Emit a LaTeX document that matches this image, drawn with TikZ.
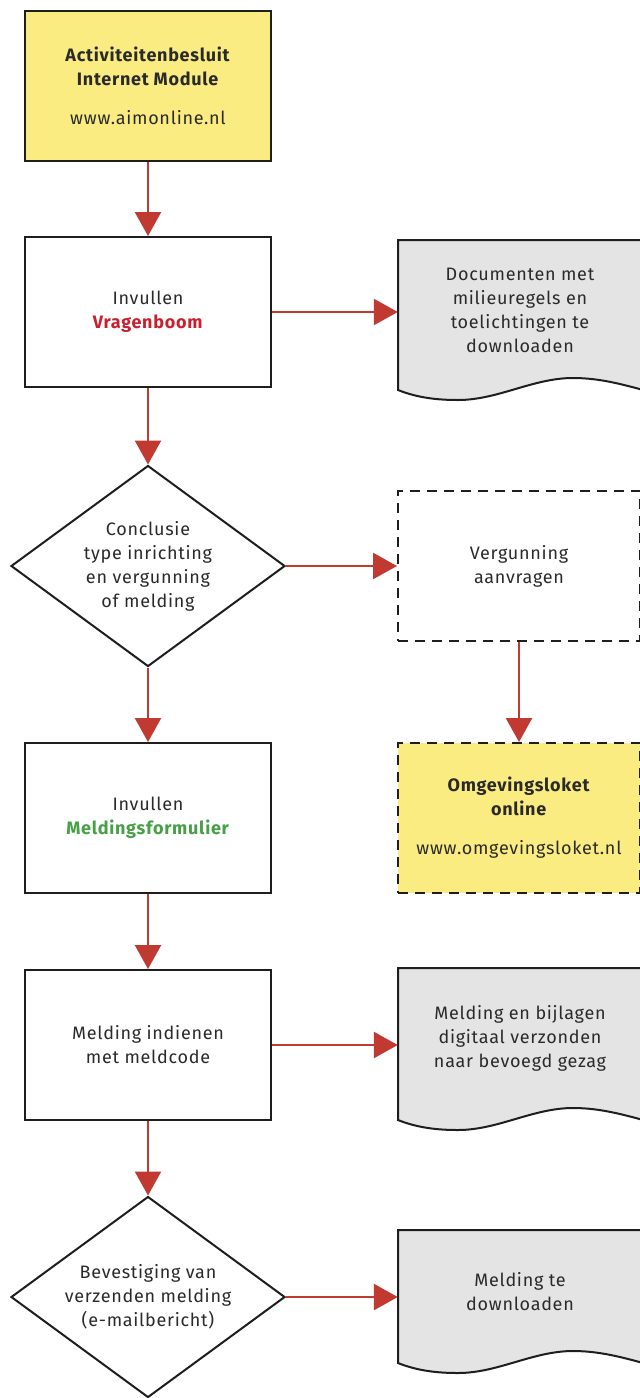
\documentclass[tikz,border=0pt]{standalone}
\usepackage{fontspec}
\setmainfont{Fira Sans}[LetterSpace=4]
\usetikzlibrary{shapes.geometric,arrows.meta,calc}
\definecolor{boxyellow}{HTML}{FAEC80}
\definecolor{docgrey}{HTML}{E4E4E4}
\definecolor{linec}{HTML}{1E1E1E}
\definecolor{arrowred}{HTML}{C03A32}
\definecolor{textred}{HTML}{C8202E}
\definecolor{textgreen}{HTML}{46A046}
\definecolor{textc}{HTML}{2A2A2A}
\newcommand{\docshape}[3]{%
  \draw[docstyle] (#1,#3) -- (#1,#2) -- (#1+270,#2) -- (#1+270,#3+6) -- (#1+260,#3+4)
    .. controls (#1+230,#3-4) and (#1+205,#3-12) .. (#1+175,#3-12)
    .. controls (#1+135,#3-12) and (#1+100,#3+10) .. (#1+60,#3+10)
    .. controls (#1+40,#3+10) and (#1+20,#3+8) .. (#1,#3) -- cycle;}
\begin{document}
\begin{tikzpicture}[x=1pt,y=-1pt,
  every node/.style={font=\fontsize{18}{24}\selectfont, text=textc},
  procbox/.style={draw=linec, line width=2pt, minimum width=246pt, minimum height=150pt, align=center, inner sep=0pt, fill=white},
  yellowbox/.style={procbox, fill=boxyellow},
  decision/.style={diamond, draw=linec, line width=2pt, minimum width=274pt, minimum height=201pt, aspect=1.37, inner sep=0pt, align=center, fill=white},
  dashedbox/.style={draw=linec, line width=2pt, dash pattern=on 10pt off 7pt, minimum width=242pt, minimum height=150pt, align=center, inner sep=0pt},
  doclabel/.style={minimum width=244pt, minimum height=100pt, align=center, inner sep=0pt},
  docstyle/.style={draw=linec, line width=2pt, fill=docgrey},
  flow/.style={draw=arrowred, line width=2.5pt, -{Triangle[length=24pt,width=26pt]}}
]
\useasboundingbox (0,0) rectangle (640,1398);
\clip (0,0) rectangle (640,1398);

% document shapes
\docshape{398}{240}{390}
\docshape{398}{968}{1120}
\docshape{398}{1230}{1363}

% nodes
\node[yellowbox] (aim) at (148,86) {\textbf{Activiteitenbesluit}\\\textbf{Internet Module}\\[15pt]www.aimonline.nl};
\node[procbox] (vragen) at (148,312) {Invullen\\\textcolor{textred}{\textbf{Vragenboom}}};
\node[doclabel] (doc1) at (520,310) {Documenten met\\milieuregels en\\toelichtingen te\\downloaden};
\node[decision] (concl) at (148,566) {Conclusie\\type inrichting\\en vergunning\\of melding};
\node[dashedbox] (verg) at (519,566) {Vergunning\\aanvragen};
\node[dashedbox, fill=boxyellow] (omg) at (519,818) {\textbf{Omgevingsloket}\\\textbf{online}\\[15pt]www.omgevingsloket.nl};
\node[procbox] (meldform) at (148,818) {Invullen\\\textcolor{textgreen}{\textbf{Meldingsformulier}}};
\node[procbox] (indienen) at (148,1045) {Melding indienen\\met meldcode};
\node[doclabel] (doc2) at (520,1038) {Melding en bijlagen\\digitaal verzonden\\naar bevoegd gezag};
\node[decision] (bevest) at (148,1297) {Bevestiging van\\verzenden melding\\(e-mailbericht)};
\node[doclabel] (doc3) at (520,1292) {Melding te\\downloaden};

% connectors
\draw[flow] (aim.south) -- (vragen.north);
\draw[flow] (vragen.east) -- (vragen.east -| doc1.west);
\draw[flow] (vragen.south) -- (concl.north);
\draw[flow] (concl.east) -- (verg.west);
\draw[flow] (verg.south) -- (omg.north);
\draw[flow] (concl.south) -- (meldform.north);
\draw[flow] (meldform.south) -- (indienen.north);
\draw[flow] (indienen.east) -- (indienen.east -| doc2.west);
\draw[flow] (indienen.south) -- (bevest.north);
\draw[flow] (bevest.east) -- (bevest.east -| doc3.west);
\end{tikzpicture}
\end{document}
